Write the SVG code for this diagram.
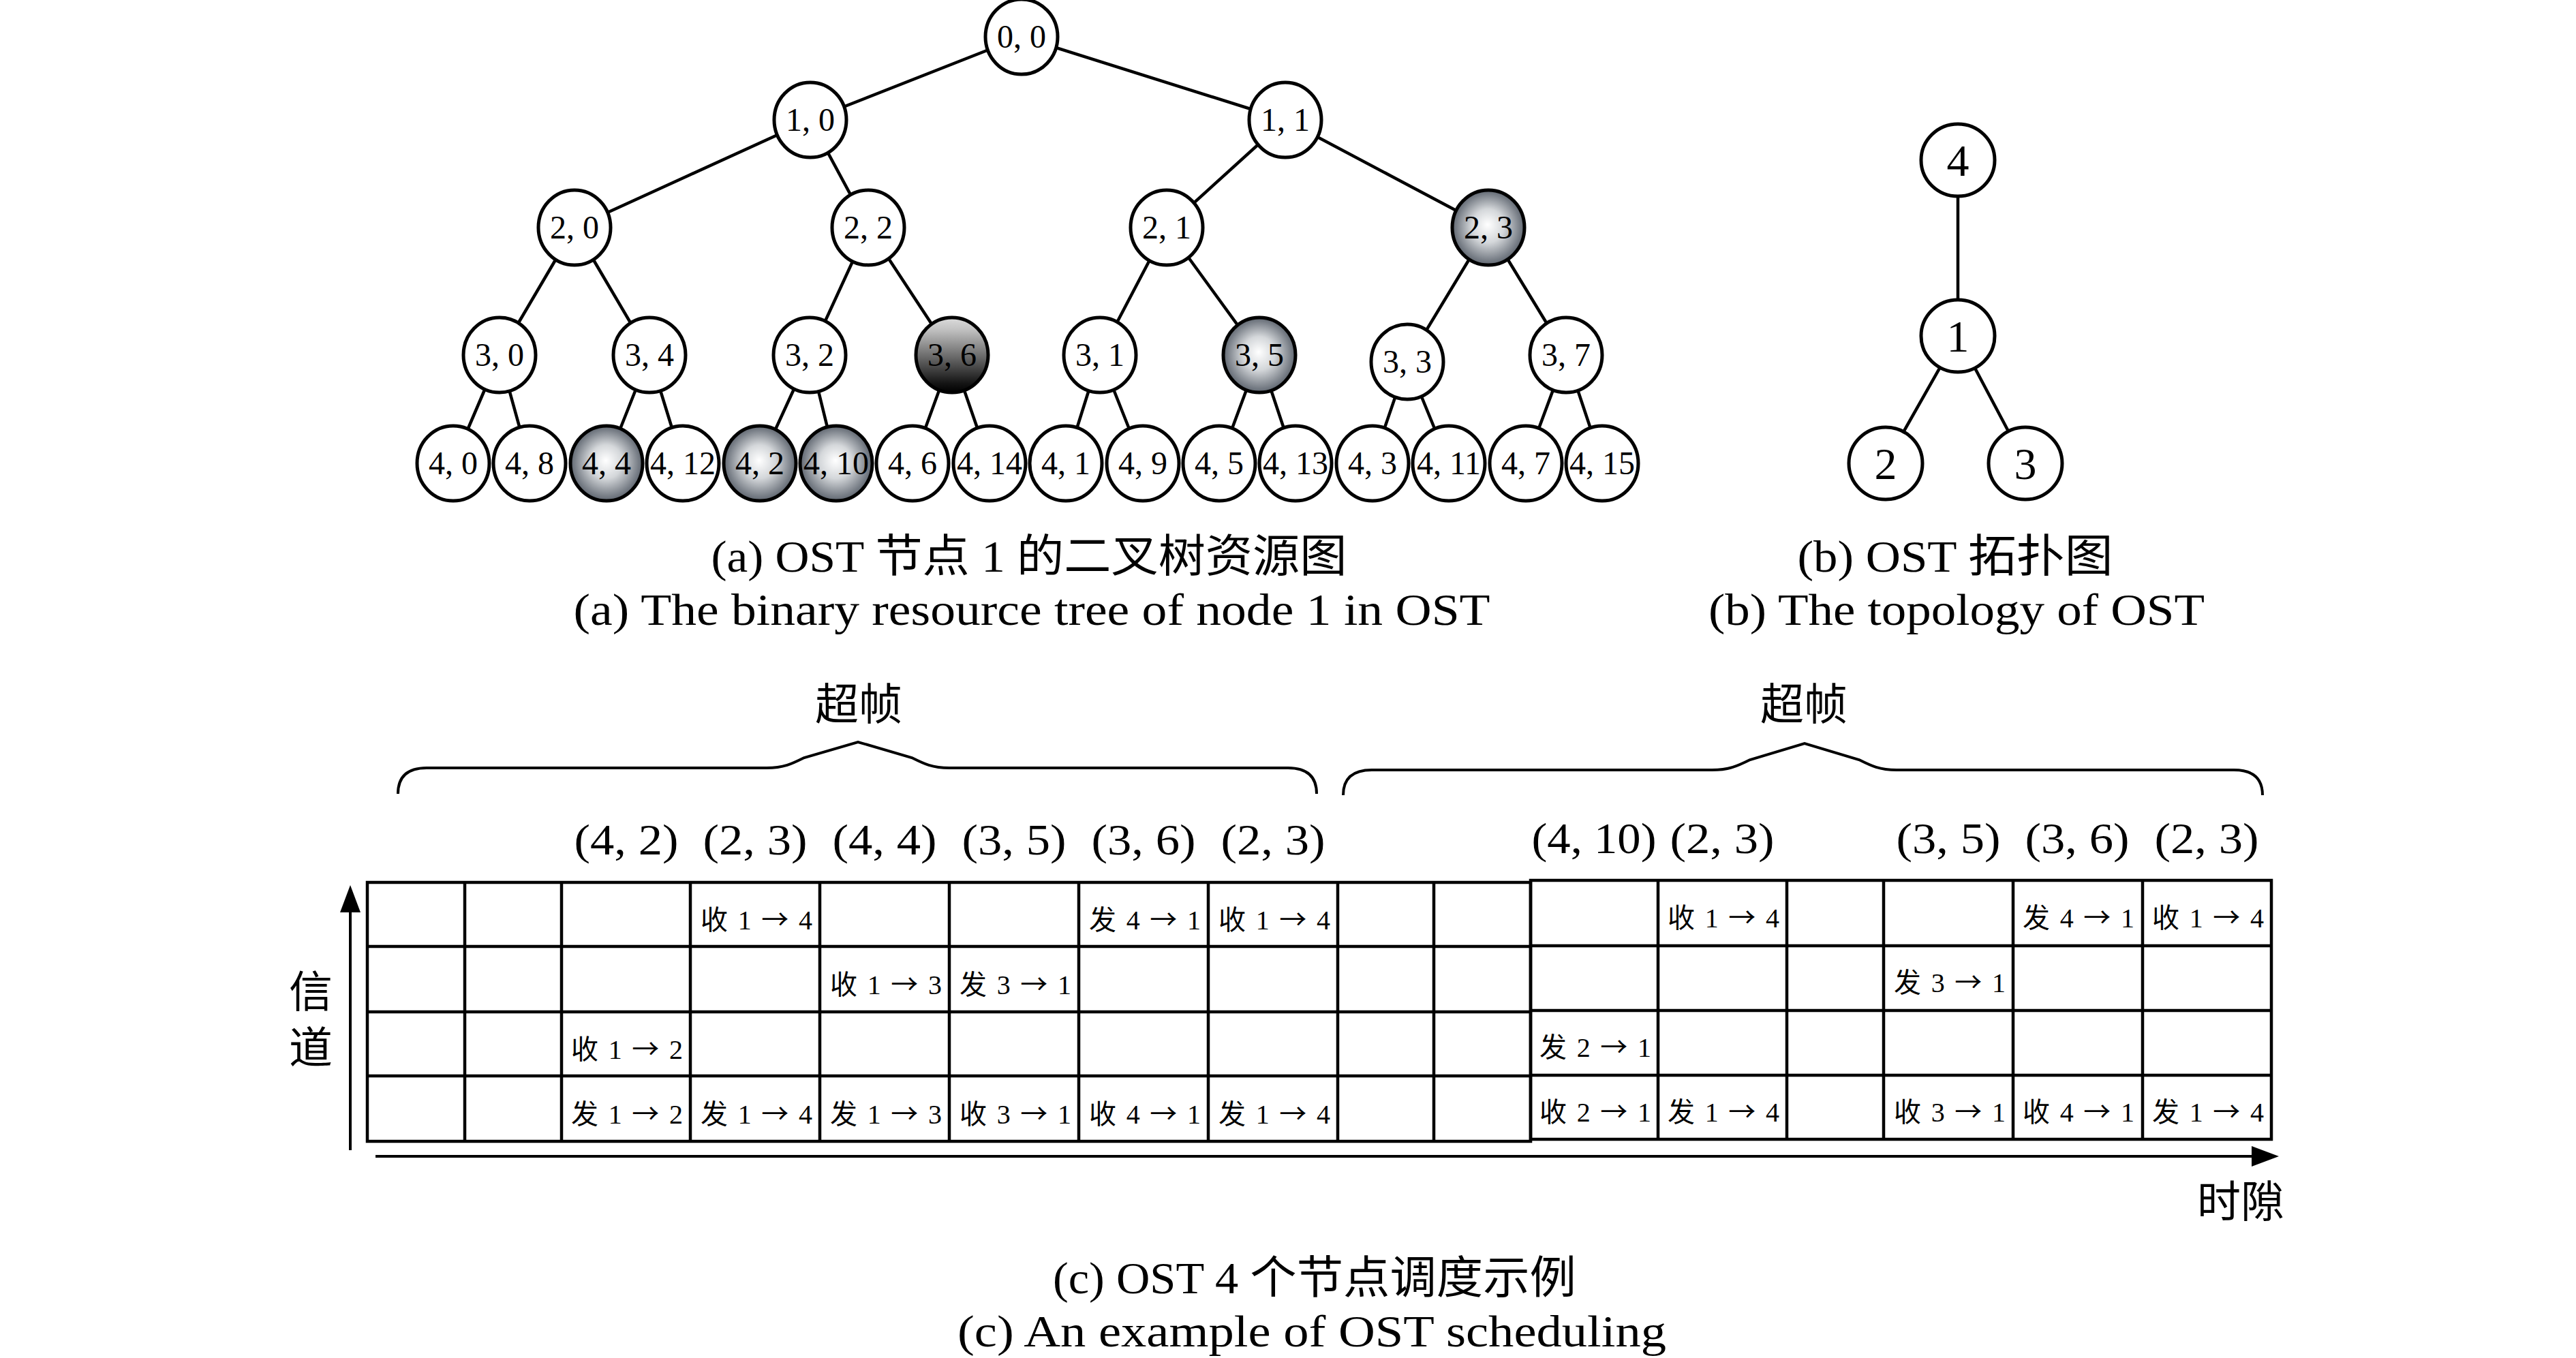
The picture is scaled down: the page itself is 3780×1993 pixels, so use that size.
<svg xmlns="http://www.w3.org/2000/svg" width="3780" height="1993" viewBox="0 0 3780 1993">
<style>
.nd{fill:#fff;stroke:#000;stroke-width:5}
.ball{fill:url(#ball);stroke:#000;stroke-width:5}
.dark{fill:url(#darkg);stroke:#000;stroke-width:5}
.edge{stroke:#000;stroke-width:4.5;fill:none}
.lbl{font-family:"Liberation Serif",serif;font-size:48px;text-anchor:middle;fill:#000}
.tl{font-family:"Liberation Serif",serif;font-size:66px;text-anchor:middle;fill:#000}
.cap{font-family:"Liberation Serif","Noto Sans CJK SC",serif;font-size:66px;text-anchor:middle;fill:#000}
.hdr{font-family:"Liberation Serif",serif;font-size:64px;text-anchor:middle;fill:#000}
.cj{font-family:"Noto Sans CJK SC",sans-serif;font-size:64px;text-anchor:middle;fill:#000}
.cell{font-family:"Liberation Serif","Noto Sans CJK SC",serif;font-size:40px;text-anchor:middle;fill:#000}
.ar{font-family:"Noto Sans CJK SC",sans-serif}
.grid{stroke:#000;stroke-width:4.5;fill:none}
.brace{stroke:#000;stroke-width:4;fill:none}
.axis{stroke:#000;stroke-width:4;fill:none}
</style>
<defs>
<radialGradient id="ball" cx="50%" cy="50%" r="50%" fx="49%" fy="46%">
<stop offset="0" stop-color="#ffffff"/>
<stop offset="0.45" stop-color="#d4d7da"/>
<stop offset="1" stop-color="#5f6670"/>
</radialGradient>
<linearGradient id="darkg" x1="0" y1="0" x2="0" y2="1">
<stop offset="0" stop-color="#dcdcdc"/>
<stop offset="0.15" stop-color="#c4c4c4"/>
<stop offset="0.88" stop-color="#141414"/>
<stop offset="1" stop-color="#000000"/>
</linearGradient>
<marker id="arr" markerUnits="userSpaceOnUse" markerWidth="42" markerHeight="32" refX="0" refY="15" orient="auto">
<path d="M0,0 L40,15 L0,30 Z" fill="#000"/>
</marker>
</defs>
<rect width="3780" height="1993" fill="#fff"/>

<g id="tree-edges">
<path class="edge" d="M1499,54 L1189,176 M1499,54 L1886,176
M1189,176 L843,334 M1189,176 L1274,334 M1886,176 L1712,334 M1886,176 L2184,334
M843,334 L733,521 M843,334 L953,521 M1274,334 L1188,521 M1274,334 L1397,521
M1712,334 L1614,521 M1712,334 L1848,521 M2184,334 L2065,531 M2184,334 L2298,521
M733,521 L665,680 M733,521 L777,680 M953,521 L890,680 M953,521 L1002,680
M1188,521 L1115,680 M1188,521 L1227,680 M1397,521 L1339,680 M1397,521 L1452,680
M1614,521 L1564,680 M1614,521 L1677,680 M1848,521 L1789,680 M1848,521 L1901,680
M2065,531 L2014,680 M2065,531 L2126,680 M2298,521 L2239,680 M2298,521 L2351,680"/>
</g>

<g id="n0_0"><ellipse class="nd" cx="1499" cy="54" rx="53" ry="55"/><text class="lbl" x="1499" y="70">0, 0</text></g>
<g id="n1_0"><ellipse class="nd" cx="1189" cy="176" rx="53" ry="55"/><text class="lbl" x="1189" y="192">1, 0</text></g>
<g id="n1_1"><ellipse class="nd" cx="1886" cy="176" rx="53" ry="55"/><text class="lbl" x="1886" y="192">1, 1</text></g>
<g id="n2_0"><ellipse class="nd" cx="843" cy="334" rx="53" ry="55"/><text class="lbl" x="843" y="350">2, 0</text></g>
<g id="n2_2"><ellipse class="nd" cx="1274" cy="334" rx="53" ry="55"/><text class="lbl" x="1274" y="350">2, 2</text></g>
<g id="n2_1"><ellipse class="nd" cx="1712" cy="334" rx="53" ry="55"/><text class="lbl" x="1712" y="350">2, 1</text></g>
<g id="n2_3"><ellipse class="ball" cx="2184" cy="334" rx="53" ry="55"/><text class="lbl" x="2184" y="350">2, 3</text></g>
<g id="n3_0"><ellipse class="nd" cx="733" cy="521" rx="53" ry="55"/><text class="lbl" x="733" y="537">3, 0</text></g>
<g id="n3_4"><ellipse class="nd" cx="953" cy="521" rx="53" ry="55"/><text class="lbl" x="953" y="537">3, 4</text></g>
<g id="n3_2"><ellipse class="nd" cx="1188" cy="521" rx="53" ry="55"/><text class="lbl" x="1188" y="537">3, 2</text></g>
<g id="n3_6"><ellipse class="dark" cx="1397" cy="521" rx="53" ry="55"/><text class="lbl" x="1397" y="537">3, 6</text></g>
<g id="n3_1"><ellipse class="nd" cx="1614" cy="521" rx="53" ry="55"/><text class="lbl" x="1614" y="537">3, 1</text></g>
<g id="n3_5"><ellipse class="ball" cx="1848" cy="521" rx="53" ry="55"/><text class="lbl" x="1848" y="537">3, 5</text></g>
<g id="n3_3"><ellipse class="nd" cx="2065" cy="531" rx="53" ry="55"/><text class="lbl" x="2065" y="547">3, 3</text></g>
<g id="n3_7"><ellipse class="nd" cx="2298" cy="521" rx="53" ry="55"/><text class="lbl" x="2298" y="537">3, 7</text></g>
<g id="n4_0"><ellipse class="nd" cx="665" cy="680" rx="53" ry="55"/><text class="lbl" x="665" y="696">4, 0</text></g>
<g id="n4_8"><ellipse class="nd" cx="777" cy="680" rx="53" ry="55"/><text class="lbl" x="777" y="696">4, 8</text></g>
<g id="n4_4"><ellipse class="ball" cx="890" cy="680" rx="53" ry="55"/><text class="lbl" x="890" y="696">4, 4</text></g>
<g id="n4_12"><ellipse class="nd" cx="1002" cy="680" rx="53" ry="55"/><text class="lbl" x="1002" y="696">4, 12</text></g>
<g id="n4_2"><ellipse class="ball" cx="1115" cy="680" rx="53" ry="55"/><text class="lbl" x="1115" y="696">4, 2</text></g>
<g id="n4_10"><ellipse class="ball" cx="1227" cy="680" rx="53" ry="55"/><text class="lbl" x="1227" y="696">4, 10</text></g>
<g id="n4_6"><ellipse class="nd" cx="1339" cy="680" rx="53" ry="55"/><text class="lbl" x="1339" y="696">4, 6</text></g>
<g id="n4_14"><ellipse class="nd" cx="1452" cy="680" rx="53" ry="55"/><text class="lbl" x="1452" y="696">4, 14</text></g>
<g id="n4_1"><ellipse class="nd" cx="1564" cy="680" rx="53" ry="55"/><text class="lbl" x="1564" y="696">4, 1</text></g>
<g id="n4_9"><ellipse class="nd" cx="1677" cy="680" rx="53" ry="55"/><text class="lbl" x="1677" y="696">4, 9</text></g>
<g id="n4_5"><ellipse class="nd" cx="1789" cy="680" rx="53" ry="55"/><text class="lbl" x="1789" y="696">4, 5</text></g>
<g id="n4_13"><ellipse class="nd" cx="1901" cy="680" rx="53" ry="55"/><text class="lbl" x="1901" y="696">4, 13</text></g>
<g id="n4_3"><ellipse class="nd" cx="2014" cy="680" rx="53" ry="55"/><text class="lbl" x="2014" y="696">4, 3</text></g>
<g id="n4_11"><ellipse class="nd" cx="2126" cy="680" rx="53" ry="55"/><text class="lbl" x="2126" y="696">4, 11</text></g>
<g id="n4_7"><ellipse class="nd" cx="2239" cy="680" rx="53" ry="55"/><text class="lbl" x="2239" y="696">4, 7</text></g>
<g id="n4_15"><ellipse class="nd" cx="2351" cy="680" rx="53" ry="55"/><text class="lbl" x="2351" y="696">4, 15</text></g>

<g id="topo-edges">
<path class="edge" d="M2873,235 L2873,493 M2873,493 L2767,680 M2873,493 L2972,680"/>
</g>
<g id="t4"><ellipse class="nd" cx="2873" cy="235" rx="54" ry="53"/><text class="tl" x="2873" y="258">4</text></g>
<g id="t1"><ellipse class="nd" cx="2873" cy="493" rx="54" ry="53"/><text class="tl" x="2873" y="516">1</text></g>
<g id="t2"><ellipse class="nd" cx="2767" cy="680" rx="54" ry="53"/><text class="tl" x="2767" y="703">2</text></g>
<g id="t3"><ellipse class="nd" cx="2972" cy="680" rx="54" ry="53"/><text class="tl" x="2972" y="703">3</text></g>

<g id="captions">
<text class="cap" x="1510" y="839" textLength="933" lengthAdjust="spacingAndGlyphs">(a) OST 节点 1 的二叉树资源图</text>
<text class="cap" x="1514" y="917" textLength="1345" lengthAdjust="spacingAndGlyphs">(a) The binary resource tree of node 1 in OST</text>
<text class="cap" x="2869" y="839" textLength="463" lengthAdjust="spacingAndGlyphs">(b) OST 拓扑图</text>
<text class="cap" x="2871" y="917" textLength="728" lengthAdjust="spacingAndGlyphs">(b) The topology of OST</text>
<text class="cap" x="1929" y="1898" textLength="768" lengthAdjust="spacingAndGlyphs">(c) OST 4 个节点调度示例</text>
<text class="cap" x="1925" y="1976" textLength="1040" lengthAdjust="spacingAndGlyphs">(c) An example of OST scheduling</text>
</g>

<g id="braces">
<path class="brace" d="M584,1165 C584,1140 598,1127 626,1127 L1125,1127 C1150,1127 1162,1121 1180,1112 L1259,1089 L1338,1112 C1356,1121 1368,1127 1393,1127 L1890,1127 C1918,1127 1932,1140 1932,1165"/>
<path class="brace" d="M1971,1167 C1971,1142 1985,1130 2013,1130 L2512,1130 C2537,1130 2550,1124 2568,1115 L2648,1091 L2728,1115 C2746,1124 2758,1130 2783,1130 L3278,1130 C3306,1130 3320,1142 3320,1167"/>
<text class="cj" x="1260" y="1056">超帧</text>
<text class="cj" x="2647" y="1056">超帧</text>
</g>

<g id="headers">
<text class="hdr" x="919" y="1254" textLength="153" lengthAdjust="spacingAndGlyphs">(4, 2)</text>
<text class="hdr" x="1108" y="1254" textLength="153" lengthAdjust="spacingAndGlyphs">(2, 3)</text>
<text class="hdr" x="1298" y="1254" textLength="153" lengthAdjust="spacingAndGlyphs">(4, 4)</text>
<text class="hdr" x="1488" y="1254" textLength="153" lengthAdjust="spacingAndGlyphs">(3, 5)</text>
<text class="hdr" x="1678" y="1254" textLength="153" lengthAdjust="spacingAndGlyphs">(3, 6)</text>
<text class="hdr" x="1868" y="1254" textLength="153" lengthAdjust="spacingAndGlyphs">(2, 3)</text>
<text class="hdr" x="2339" y="1252" textLength="183" lengthAdjust="spacingAndGlyphs">(4, 10)</text>
<text class="hdr" x="2527" y="1252" textLength="153" lengthAdjust="spacingAndGlyphs">(2, 3)</text>
<text class="hdr" x="2859" y="1252" textLength="153" lengthAdjust="spacingAndGlyphs">(3, 5)</text>
<text class="hdr" x="3048" y="1252" textLength="153" lengthAdjust="spacingAndGlyphs">(3, 6)</text>
<text class="hdr" x="3238" y="1252" textLength="153" lengthAdjust="spacingAndGlyphs">(2, 3)</text>
</g>

<g id="table-left">
<path class="grid" d="M539,1295 H2246 V1675 H539 Z M539,1389 H2246 M539,1485 H2246 M539,1579 H2246
M682,1295 V1675 M824,1295 V1675 M1013,1295 V1675 M1203,1295 V1675 M1393,1295 V1675 M1583,1295 V1675 M1773,1295 V1675 M1963,1295 V1675 M2104,1295 V1675"/>
<text class="cell" x="1110" y="1364" textLength="164" lengthAdjust="spacing">收 1 <tspan class="ar">→</tspan> 4</text>
<text class="cell" x="1680" y="1364" textLength="164" lengthAdjust="spacing">发 4 <tspan class="ar">→</tspan> 1</text>
<text class="cell" x="1870" y="1364" textLength="164" lengthAdjust="spacing">收 1 <tspan class="ar">→</tspan> 4</text>
<text class="cell" x="1300" y="1459" textLength="164" lengthAdjust="spacing">收 1 <tspan class="ar">→</tspan> 3</text>
<text class="cell" x="1490" y="1459" textLength="164" lengthAdjust="spacing">发 3 <tspan class="ar">→</tspan> 1</text>
<text class="cell" x="920" y="1554" textLength="164" lengthAdjust="spacing">收 1 <tspan class="ar">→</tspan> 2</text>
<text class="cell" x="920" y="1649" textLength="164" lengthAdjust="spacing">发 1 <tspan class="ar">→</tspan> 2</text>
<text class="cell" x="1110" y="1649" textLength="164" lengthAdjust="spacing">发 1 <tspan class="ar">→</tspan> 4</text>
<text class="cell" x="1300" y="1649" textLength="164" lengthAdjust="spacing">发 1 <tspan class="ar">→</tspan> 3</text>
<text class="cell" x="1490" y="1649" textLength="164" lengthAdjust="spacing">收 3 <tspan class="ar">→</tspan> 1</text>
<text class="cell" x="1680" y="1649" textLength="164" lengthAdjust="spacing">收 4 <tspan class="ar">→</tspan> 1</text>
<text class="cell" x="1870" y="1649" textLength="164" lengthAdjust="spacing">发 1 <tspan class="ar">→</tspan> 4</text>
</g>

<g id="table-right">
<path class="grid" d="M2246,1292 H3333 V1672 H2246 Z M2246,1388 H3333 M2246,1483 H3333 M2246,1578 H3333
M2433,1292 V1672 M2622,1292 V1672 M2764,1292 V1672 M2954,1292 V1672 M3144,1292 V1672"/>
<text class="cell" x="2529" y="1361" textLength="164" lengthAdjust="spacing">收 1 <tspan class="ar">→</tspan> 4</text>
<text class="cell" x="3050" y="1361" textLength="164" lengthAdjust="spacing">发 4 <tspan class="ar">→</tspan> 1</text>
<text class="cell" x="3240" y="1361" textLength="164" lengthAdjust="spacing">收 1 <tspan class="ar">→</tspan> 4</text>
<text class="cell" x="2861" y="1456" textLength="164" lengthAdjust="spacing">发 3 <tspan class="ar">→</tspan> 1</text>
<text class="cell" x="2341" y="1551" textLength="164" lengthAdjust="spacing">发 2 <tspan class="ar">→</tspan> 1</text>
<text class="cell" x="2341" y="1646" textLength="164" lengthAdjust="spacing">收 2 <tspan class="ar">→</tspan> 1</text>
<text class="cell" x="2529" y="1646" textLength="164" lengthAdjust="spacing">发 1 <tspan class="ar">→</tspan> 4</text>
<text class="cell" x="2861" y="1646" textLength="164" lengthAdjust="spacing">收 3 <tspan class="ar">→</tspan> 1</text>
<text class="cell" x="3050" y="1646" textLength="164" lengthAdjust="spacing">收 4 <tspan class="ar">→</tspan> 1</text>
<text class="cell" x="3240" y="1646" textLength="164" lengthAdjust="spacing">发 1 <tspan class="ar">→</tspan> 4</text>
</g>

<g id="axes">
<path class="axis" d="M514,1688 V1339" marker-end="url(#arr)"/>
<path class="axis" d="M551,1697 H3304" marker-end="url(#arr)"/>
<text class="cj" x="456" y="1504" writing-mode="vertical-rl" style="letter-spacing:18px">信道</text>
<text class="cj" x="3288" y="1786">时隙</text>
</g>
</svg>
